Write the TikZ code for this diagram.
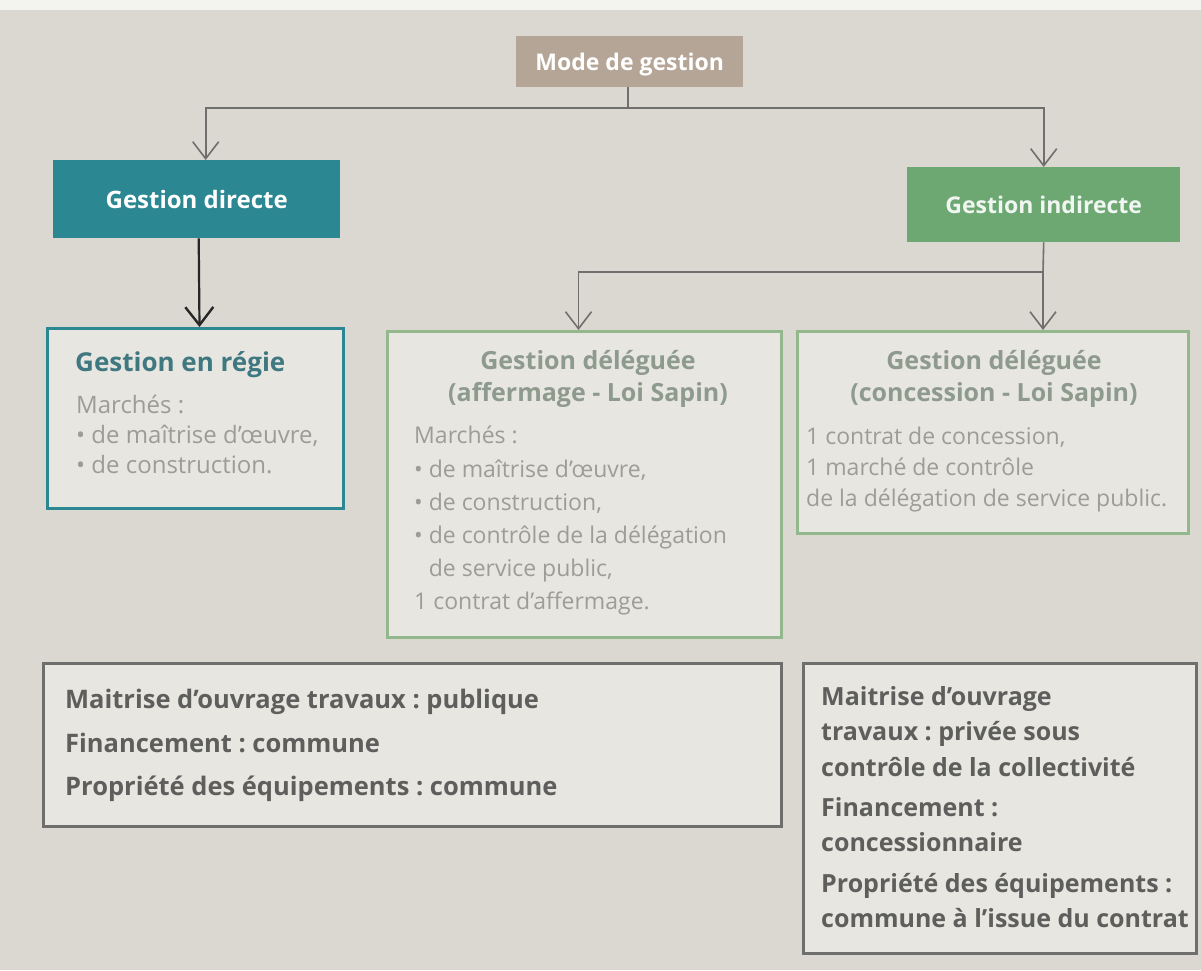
\documentclass[tikz,border=0pt]{standalone}
\usepackage{fontspec}
\setmainfont{Open Sans}
\usetikzlibrary{arrows.meta,calc}
\definecolor{bg}{HTML}{DAD8D1}
\definecolor{topstrip}{HTML}{F3F3EF}
\definecolor{tan}{HTML}{B5A597}
\definecolor{teal}{HTML}{2B8791}
\definecolor{tealtxt}{HTML}{3F7880}
\definecolor{green}{HTML}{6DA873}
\definecolor{lgreen}{HTML}{93B88E}
\definecolor{greentxt}{HTML}{8D9A8C}
\definecolor{bodytxt}{HTML}{9C9C98}
\definecolor{dgrey}{HTML}{6E6E6C}
\definecolor{dtxt}{HTML}{5E5E5C}
\definecolor{linec}{HTML}{6F6F6D}
\colorlet{boxfill}{bg!65!white}
\frenchspacing
\tikzset{
  headbox/.style={anchor=north west, inner sep=0pt, text=white, font=\bfseries\fontsize{23}{26}\selectfont, align=center},
  frame/.style={anchor=north west, line width=3pt, fill=boxfill, inner sep=0pt},
  txt/.style={anchor=north west, inner sep=0pt, align=left},
  ttl/.style={anchor=north, inner sep=0pt, align=center, text=greentxt, font=\bfseries\fontsize{25}{32}\selectfont},
  conn/.style={draw=linec, line width=1.6pt},
  arr/.style={conn, -{Straight Barb[length=17pt,width=26pt,line width=1.6pt]}},
  darr/.style={draw=black!85, line width=2.2pt, -{Straight Barb[length=18pt,width=28pt,line width=2.4pt]}},
}
\begin{document}
\begin{tikzpicture}[x=1pt,y=-1pt]
\fill[bg] (0,0) rectangle (1201,970);
\fill[topstrip] (0,0) rectangle (1201,10);
\useasboundingbox (0,0) rectangle (1201,970);

% header boxes
\node[headbox, fill=tan, minimum width=227pt, minimum height=51pt, text height=20pt, text depth=2pt] (mode) at (516,36) {Mode de gestion};
\node[headbox, fill=teal, minimum width=287pt, minimum height=78pt, font=\bfseries\fontsize{24}{26}\selectfont] (directe) at (53,160) {Gestion directe};
\node[headbox, fill=green, minimum width=273pt, minimum height=75pt, text=white!90!green] (indirecte) at (907,167) {Gestion indirecte};

% frames
\node[frame, draw=teal, minimum width=296pt, minimum height=180pt] (regie) at (46,327) {};
\node[frame, draw=lgreen, minimum width=394pt, minimum height=306pt] (afferm) at (386,330) {};
\node[frame, draw=lgreen, minimum width=391pt, minimum height=202pt] (concess) at (796,330) {};
\node[frame, draw=dgrey, minimum width=738pt, minimum height=163pt] (bleft) at (42,662) {};
\node[frame, draw=dgrey, minimum width=393pt, minimum height=290pt] (bright) at (802,662) {};

% texts
\node[txt, text=tealtxt, font=\bfseries\fontsize{26}{30}\selectfont] (regiettl) at (75,351) {Gestion en régie};
\node[txt, text=bodytxt, font=\fontsize{24}{30}\selectfont] (regietxt) at (76,395)
{Marchés :\\
• de maîtrise d’œuvre,\\
• de construction.};

\node[ttl] (affttl) at (588,350) {Gestion déléguée\\(affermage - Loi Sapin)};
\node[txt, text=bodytxt, font=\fontsize{23}{33.2}\selectfont] (afftxt) at (414,426)
{Marchés :\\
• de maîtrise d’œuvre,\\
• de construction,\\
• de contrôle de la délégation\\
\hphantom{• }de service public,\\
1 contrat d’affermage.};

\node[ttl] (conttl) at (994,350) {Gestion déléguée\\(concession - Loi Sapin)};
\node[txt, text=bodytxt, font=\fontsize{23}{31}\selectfont] (contxt) at (806,427)
{1 contrat de concession,\\
1 marché de contrôle\\
de la délégation de service public.};

\node[txt, text=dtxt, font=\bfseries\fontsize{25.5}{43.5}\selectfont] (blefttxt) at (65,689)
{Maitrise d’ouvrage travaux : publique\\
Financement : commune\\
Propriété des équipements : commune};

\node[txt, text=dtxt, font=\bfseries\fontsize{25}{35.5}\selectfont] (brighttxt) at (821,686)
{Maitrise d’ouvrage\\
travaux : privée sous\\
contrôle de la collectivité\\[4.5pt]
Financement :\\
concessionnaire\\[5pt]
Propriété des équipements :\\
commune à l’issue du contrat};

% connectors
\coordinate (j1) at (628,108);
\coordinate (j2) at (1043,272);
\draw[conn] (mode.south -| j1) -- (j1);
\draw[arr] (j1) -| ([xshift=9pt]directe.north);
\draw[arr] (j1) -| (indirecte.north);
\draw[darr] ([xshift=2pt]directe.south) -- ([xshift=4pt]regie.north);
\draw[conn] (indirecte.south) -- (j2);
\draw[arr] (j2) -| ([xshift=-6pt]afferm.north);
\draw[arr] (j2) -- (j2 |- concess.north);
\end{tikzpicture}
\end{document}
